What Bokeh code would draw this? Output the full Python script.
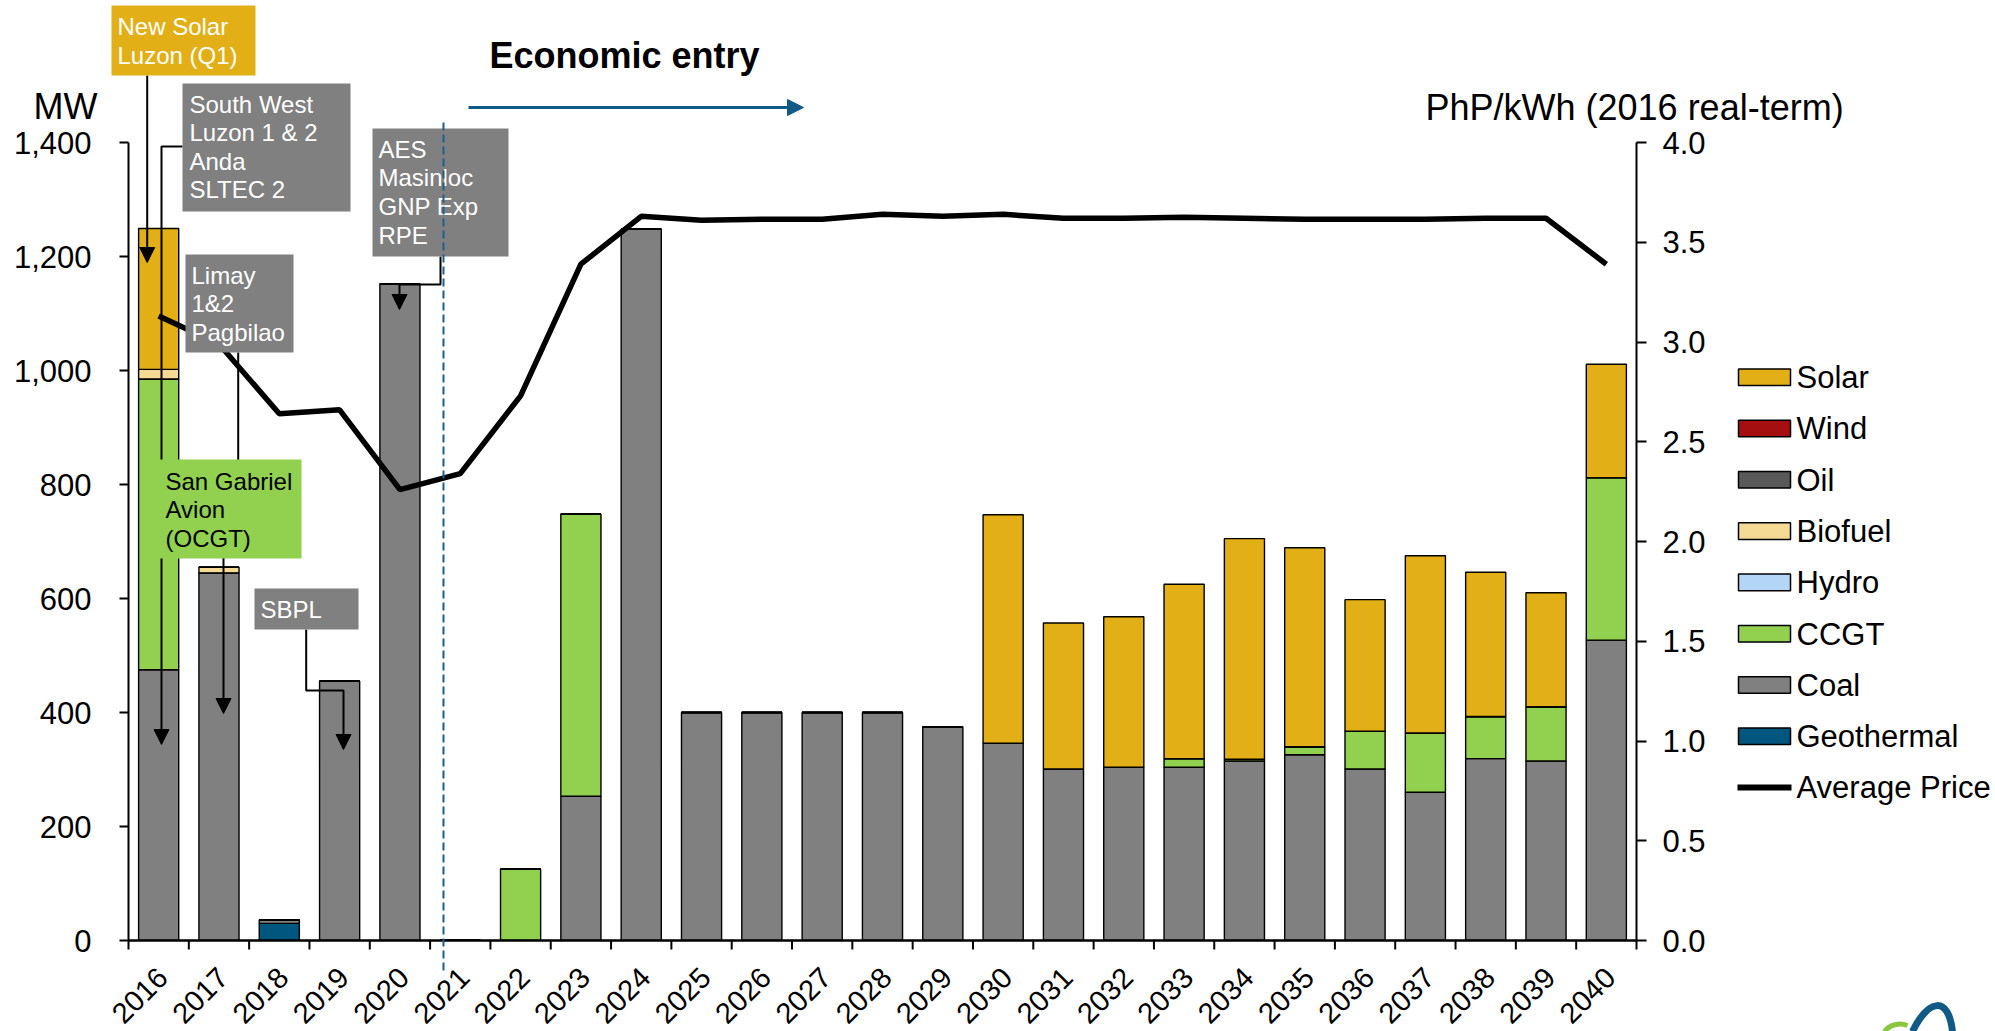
import math
from bokeh.plotting import figure
from bokeh.models import (Range1d, LinearAxis, FixedTicker, NumeralTickFormatter,
                          ColumnDataSource)
from bokeh.core.properties import value
from bokeh.embed import file_html
from bokeh.resources import INLINE

# ---------------- data ----------------
years = ["2016", "2017", "2018", "2019", "2020", "2021", "2022", "2023", "2024", "2025",
         "2026", "2027", "2028", "2029", "2030", "2031", "2032", "2033", "2034", "2035",
         "2036", "2037", "2038", "2039", "2040"]
geothermal = [0, 0, 30, 0, 0, 0, 0, 0, 0, 0, 0, 0, 0, 0, 0, 0, 0, 0, 0, 0, 0, 0, 0, 0, 0]
coal = [475, 645, 6, 455, 1152, 0, 0, 253, 1248, 400, 400, 400, 400, 375, 346, 301, 304,
        304, 315, 326, 301, 260, 319, 315, 527]
ccgt = [510, 0, 0, 0, 0, 0, 125, 495, 0, 0, 0, 0, 0, 0, 0, 0, 0, 15, 3, 14, 66, 104, 74, 95, 285]
hydro = [0, 0, 0, 0, 0, 0, 0, 0, 0, 0, 0, 0, 0, 0, 0, 0, 0, 0, 0, 0, 0, 0, 0, 0, 0]
biofuel = [17, 10, 0, 0, 0, 0, 0, 0, 0, 0, 0, 0, 0, 0, 0, 0, 0, 0, 0, 0, 0, 0, 0, 0, 0]
oil = [0, 0, 0, 0, 0, 0, 0, 0, 0, 0, 0, 0, 0, 0, 0, 0, 0, 0, 0, 0, 0, 0, 0, 0, 0]
wind = [0, 0, 0, 0, 0, 0, 0, 0, 0, 0, 0, 0, 0, 0, 0, 0, 0, 0, 0, 0, 0, 0, 0, 0, 0]
solar = [247, 0, 0, 0, 0, 0, 0, 0, 0, 0, 0, 0, 0, 0, 401, 256, 264, 306, 387, 349, 231,
         311, 253, 200, 199]
avg_price = [3.13, 2.99, 2.64, 2.66, 2.26, 2.34, 2.73, 3.39, 3.63, 3.61, 3.615, 3.615, 3.64,
             3.63, 3.64, 3.62, 3.62, 3.625, 3.62, 3.615, 3.615, 3.615, 3.62, 3.62, 3.39]

mw_ticks = [0, 200, 400, 600, 800, 1000, 1200, 1400]
price_ticks = [0.0, 0.5, 1.0, 1.5, 2.0, 2.5, 3.0, 3.5, 4.0]

series_names = ["Geothermal", "Coal", "CCGT", "Hydro", "Biofuel", "Oil", "Wind", "Solar"]
series_colors = ["#00567F", "#808080", "#92D050", "#B4D6F6", "#F5DA96", "#595959", "#A50F0F", "#E3AF16"]
legend_order = ["Solar", "Wind", "Oil", "Biofuel", "Hydro", "CCGT", "Coal", "Geothermal"]

# ---------------- layout ----------------
FONT = "Liberation Sans"
W, H = 1995, 1031
L, R, T, B = 128, 359, 142, 91
FW, FH = W - L - R, H - T - B
N = len(years)
YMAX = 1400
PMAX = 4.0
BASE_FIX = 0.35  # alphabetic baseline correction (fraction of font size)


def xd(px):
    return (px - L) * N / FW


def yd(py):
    return (H - B - py) * YMAX / FH


x = [i + 0.5 for i in range(N)]
src = ColumnDataSource(dict(x=x, Geothermal=geothermal, Coal=coal, CCGT=ccgt, Hydro=hydro,
                            Biofuel=biofuel, Oil=oil, Wind=wind, Solar=solar, price=avg_price))

p = figure(width=W, height=H, x_range=Range1d(0, N), y_range=Range1d(0, YMAX),
           x_axis_location=None, y_axis_location=None,
           output_backend="svg", toolbar_location=None,
           min_border_left=L, min_border_right=R, min_border_top=T, min_border_bottom=B)
p.extra_y_ranges = {"price": Range1d(0, PMAX)}
p.outline_line_color = None
p.background_fill_color = "white"
p.border_fill_color = "white"
p.xgrid.visible = False
p.ygrid.visible = False


def style_axis(ax, standoff, tick_out):
    ax.axis_line_color = "black"
    ax.axis_line_width = 2
    ax.major_tick_line_color = "black"
    ax.major_tick_line_width = 2
    ax.major_tick_in = 0
    ax.major_tick_out = tick_out
    ax.minor_tick_line_color = None
    ax.major_label_text_font = FONT
    ax.major_label_text_font_size = "31px"
    ax.major_label_text_color = "black"
    ax.major_label_standoff = standoff


ax_l = LinearAxis(ticker=FixedTicker(ticks=mw_ticks), formatter=NumeralTickFormatter(format="0,0"))
style_axis(ax_l, 28, 9)
p.add_layout(ax_l, "left")

ax_r = LinearAxis(y_range_name="price", ticker=FixedTicker(ticks=price_ticks),
                  formatter=NumeralTickFormatter(format="0.0"))
style_axis(ax_r, 16, 10)
p.add_layout(ax_r, "right")


def txt(px, py, s, size, color="black", style="normal", baseline="alphabetic", align="left",
        angle=0.0):
    yy = py - BASE_FIX * size if baseline == "alphabetic" else py
    p.text(x=[xd(px)], y=[yd(yy)], text=[s], text_font=value(FONT), text_font_size=f"{size}px",
           text_font_style=style, text_color=color, text_align=align, text_baseline=baseline,
           angle=angle, level="overlay")


def head_down(tx, ty, color="black", length=15, half=7.5):
    p.patch([xd(tx - half), xd(tx + half), xd(tx)], [yd(ty - length), yd(ty - length), yd(ty)],
            fill_color=color, line_color=color, line_width=1, level="overlay")


# ---------------- bars & line ----------------
bar_rs = p.vbar_stack(series_names, x="x", width=0.665, fill_color=series_colors,
                      line_color="black", line_width=1.4, source=src)
price_r = p.line("x", "price", source=src, y_range_name="price", line_color="black",
                 line_width=5.5)

# bottom axis: line + ticks at category boundaries
p.segment(x0=[0], y0=[0], x1=[N], y1=[0], line_color="black", line_width=2.5, level="overlay")
p.segment(x0=list(range(N + 1)), y0=[0] * (N + 1), x1=list(range(N + 1)),
          y1=[yd(H - B + 9)] * (N + 1), line_color="black", line_width=2, level="overlay")

# year labels (rotated)
p.text(x=[v + 4 * N / FW for v in x], y=[yd(972)] * N, text=years, angle=math.pi / 4,
       text_align="right", text_baseline="middle", text_font=value(FONT),
       text_font_size="29px", text_color="black", level="overlay")

# axis titles
txt(33, 119, "MW", 36)
txt(1425, 120, "PhP/kWh (2016 real-term)", 36)

# ---------------- annotations ----------------
connectors = [
    [(146.7, 75), (146.7, 250)],
    [(182, 146), (161, 146), (161, 732)],
    [(237.7, 352), (237.7, 500), (223, 500), (223, 701)],
    [(305.7, 629), (305.7, 690), (343, 690), (343, 737)],
    [(440, 256), (440, 284), (399, 284), (399, 297)],
]
tips = [(146.7, 262), (161, 744), (223, 713), (343, 749), (399, 309)]
for pts in connectors:
    p.line([xd(a) for a, b in pts], [yd(b) for a, b in pts], line_color="black",
           line_width=2, level="overlay")
for tx, ty in tips:
    head_down(tx, ty)

boxes = [
    dict(l=111, r=255, t=5, b=75, fill="#E3AF16", color="white", tx=117,
         lines=["New Solar", "Luzon (Q1)"], base=[34, 63]),
    dict(l=182, r=350, t=83, b=211, fill="#808080", color="white", tx=189,
         lines=["South West", "Luzon 1 & 2", "Anda", "SLTEC 2"], base=[112, 140.5, 169, 197.5]),
    dict(l=185, r=293, t=254, b=352, fill="#808080", color="white", tx=191,
         lines=["Limay", "1&2", "Pagbilao"], base=[283, 311.5, 340.5]),
    dict(l=159, r=301, t=459, b=558, fill="#92D050", color="black", tx=165,
         lines=["San Gabriel", "Avion", "(OCGT)"], base=[489, 517, 546]),
    dict(l=254, r=358, t=588, b=629, fill="#808080", color="white", tx=260,
         lines=["SBPL"], base=[617]),
    dict(l=372, r=508, t=128, b=256, fill="#808080", color="white", tx=378,
         lines=["AES", "Masinloc", "GNP Exp", "RPE"], base=[157, 185, 214, 243]),
]
for bx in boxes:
    p.quad(left=[xd(bx["l"])], right=[xd(bx["r"])], top=[yd(bx["t"])], bottom=[yd(bx["b"])],
           fill_color=bx["fill"], line_color=None, level="overlay")
    for s, b in zip(bx["lines"], bx["base"]):
        txt(bx["tx"], b, s, 24, color=bx["color"])

# dashed boundary line
p.segment(x0=[xd(443)], y0=[yd(122)], x1=[xd(443)], y1=[yd(973)], line_color="#1F5F8C",
          line_width=2, line_dash="8 4", level="overlay")

# economic entry
txt(489, 68, "Economic entry", 36, style="bold")
p.segment(x0=[xd(468)], y0=[yd(107)], x1=[xd(790)], y1=[yd(107)], line_color="#125A86",
          line_width=3, level="overlay")
p.patch([xd(787), xd(787), xd(803)], [yd(99), yd(115), yd(107)], fill_color="#125A86",
        line_color="#125A86", level="overlay")

# ---------------- legend (drawn manually, outside the frame) ----------------
color_of = dict(zip(series_names, series_colors))
LEG_Y0, LEG_DY = 376.7, 51.3
LEG_FS = 31
for k, name in enumerate(legend_order):
    cy = LEG_Y0 + k * LEG_DY
    p.quad(left=[xd(1738)], right=[xd(1790)], top=[yd(cy - 8.3)], bottom=[yd(cy + 8.3)],
           fill_color=color_of[name], line_color="black", line_width=1.5, level="overlay")
    txt(1796, cy + 0.36 * LEG_FS, name, LEG_FS)
cy = LEG_Y0 + len(legend_order) * LEG_DY
p.segment(x0=[xd(1737)], y0=[yd(cy)], x1=[xd(1791)], y1=[yd(cy)], line_color="black",
          line_width=6, level="overlay")
txt(1796, cy + 0.36 * LEG_FS, "Average Price", LEG_FS)

# ---------------- logo fragment (bottom right corner) ----------------
p.bezier(x0=[xd(1912)], y0=[yd(1031)], x1=[xd(1952)], y1=[yd(1031)],
         cx0=[xd(1928)], cy0=[yd(998)], cx1=[xd(1948)], cy1=[yd(995)],
         line_color="#125A86", line_width=7, level="overlay")
p.bezier(x0=[xd(1884)], y0=[yd(1031)], x1=[xd(1907)], y1=[yd(1025)],
         cx0=[xd(1889)], cy0=[yd(1024)], cx1=[xd(1899)], cy1=[yd(1022)],
         line_color="#8CC63F", line_width=5, level="overlay")

open("out.html", "w").write(file_html(p, INLINE))
